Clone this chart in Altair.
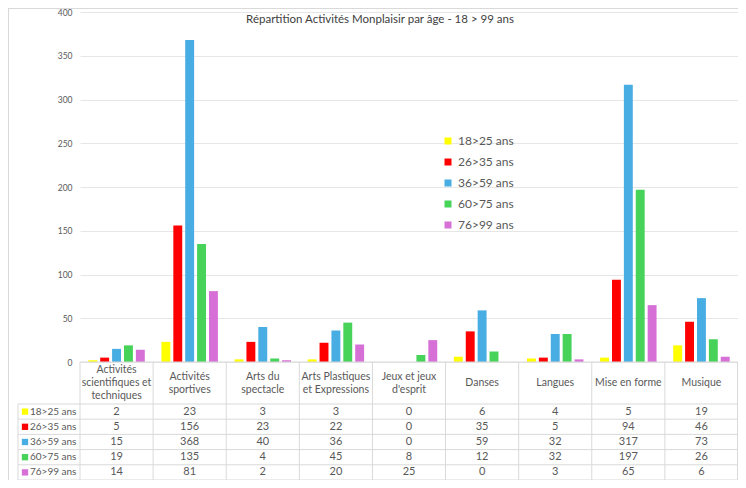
import altair as alt
import pandas as pd

title_text = "Répartition Activités Monplaisir par âge - 18 > 99 ans"
categories = ["Activités scientifiques et techniques", "Activités sportives", "Arts du spectacle",
              "Arts Plastiques et Expressions", "Jeux et jeux d'esprit", "Danses", "Langues",
              "Mise en forme", "Musique"]
headers = ["Activités\nscientifiques et\ntechniques", "Activités\nsportives", "Arts du\nspectacle",
           "Arts Plastiques\net Expressions", "Jeux et jeux\nd'esprit", "Danses", "Langues",
           "Mise en forme", "Musique"]
series = ["18>25 ans", "26>35 ans", "36>59 ans", "60>75 ans", "76>99 ans"]
colors = ["#FFFF00", "#FF0000", "#47ADE2", "#47D35A", "#D670D6"]
v_18_25 = [2, 23, 3, 3, 0, 6, 4, 5, 19]
v_26_35 = [5, 156, 23, 22, 0, 35, 5, 94, 46]
v_36_59 = [15, 368, 40, 36, 0, 59, 32, 317, 73]
v_60_75 = [19, 135, 4, 45, 8, 12, 32, 197, 26]
v_76_99 = [14, 81, 2, 20, 25, 0, 3, 65, 6]
values = [v_18_25, v_26_35, v_36_59, v_60_75, v_76_99]
y_ticks = [0, 50, 100, 150, 200, 250, 300, 350, 400]

rows = []
for s, vals in zip(series, values):
    for c, h, v in zip(categories, headers, vals):
        rows.append({"cat": c, "header": h, "nlines": h.count("\n") + 1, "series": s, "value": v})
df = pd.DataFrame(rows)

FONT = "Lato"
TXT = "#595959"
LINE = "#d9d9d9"
W, H = 658, 350
TAB_TOP, HEAD_BOT, TAB_BOT = 350, 392, 468
LH = 13
row_h = (TAB_BOT - HEAD_BOT) / 5
row_centers = [HEAD_BOT + row_h * (i + 0.5) for i in range(5)]

xs = alt.Scale(domain=categories, paddingInner=0, paddingOuter=0)
cs = alt.Scale(domain=series, range=colors)
base = alt.Chart(df)
one = pd.DataFrame({"a": [0]})

bars = base.mark_bar().encode(
    x=alt.X("cat:N", scale=xs, sort=categories, axis=None),
    xOffset=alt.XOffset("series:N", sort=series,
                        scale=alt.Scale(domain=series, paddingInner=0.25, paddingOuter=0.7)),
    y=alt.Y("value:Q", scale=alt.Scale(domain=[0, 400], nice=False), title=None,
            axis=alt.Axis(values=y_ticks, domain=False, ticks=False, labelFontSize=8.5,
                          labelColor=TXT, labelFont=FONT, gridColor="#e6e6e6", labelPadding=8)),
    color=alt.Color("series:N", scale=cs, sort=series,
                    legend=alt.Legend(title=None, orient="none", legendX=362, legendY=123,
                                      symbolType="square", symbolSize=49, symbolStrokeWidth=0,
                                      labelFontSize=12, labelColor=TXT, labelFont=FONT,
                                      rowPadding=9)),
)

layers = [bars]

# title
layers.append(alt.Chart(one).mark_text(fontSize=11.5, color="#404040", font=FONT, align="center",
                                        baseline="middle").encode(
    x=alt.value(300), y=alt.value(8), text=alt.value(title_text)))

# table column lines
first = base.transform_filter(alt.datum.series == series[0])
layers.append(first.mark_rule(color=LINE, strokeWidth=1).encode(
    x=alt.X("cat:N", scale=xs, sort=categories, bandPosition=0),
    y=alt.value(TAB_TOP), y2=alt.value(TAB_BOT)))
layers.append(alt.Chart(one).mark_rule(color=LINE).encode(
    x=alt.value(W - 0.5), y=alt.value(TAB_TOP), y2=alt.value(TAB_BOT)))
layers.append(alt.Chart(one).mark_rule(color=LINE).encode(
    x=alt.value(-62), y=alt.value(HEAD_BOT), y2=alt.value(TAB_BOT)))
# horizontal lines
layers.append(alt.Chart(one).mark_rule(color=LINE).encode(
    x=alt.value(0), x2=alt.value(W), y=alt.value(TAB_TOP)))
for k in range(6):
    yy = HEAD_BOT + row_h * k
    layers.append(alt.Chart(one).mark_rule(color=LINE).encode(
        x=alt.value(-62), x2=alt.value(W), y=alt.value(yy)))
# outer frame
layers.append(alt.Chart(one).mark_rule(color=LINE).encode(
    x=alt.value(-71.5), y=alt.value(-3.5), y2=alt.value(TAB_BOT)))
layers.append(alt.Chart(one).mark_rule(color=LINE).encode(
    x=alt.value(-72), x2=alt.value(W), y=alt.value(-3.5)))

# header (multi-line, vertically centred per line count)
head_mid = (TAB_TOP + HEAD_BOT) / 2
for n in (1, 2, 3):
    layers.append(first.transform_filter(alt.datum.nlines == n).mark_text(
        lineBreak="\n", lineHeight=LH, fontSize=10.5, color=TXT, font=FONT,
        baseline="middle", dy=-(n - 1) * LH / 2).encode(
        x=alt.X("cat:N", scale=xs, sort=categories),
        y=alt.value(head_mid), text="header:N"))

# rows
for i, s in enumerate(series):
    layers.append(base.transform_filter(alt.datum.series == s).mark_text(
        fontSize=11, color=TXT, font=FONT, baseline="middle").encode(
        x=alt.X("cat:N", scale=xs, sort=categories),
        y=alt.value(row_centers[i]), text="value:Q"))
    sdf = pd.DataFrame({"series": [s]})
    layers.append(alt.Chart(sdf).mark_square(size=40, opacity=1, strokeWidth=0).encode(
        x=alt.value(-55), y=alt.value(row_centers[i]),
        color=alt.Color("series:N", scale=cs, legend=None)))
    layers.append(alt.Chart(sdf).mark_text(fontSize=10, color=TXT, font=FONT, align="left",
                                           baseline="middle").encode(
        x=alt.value(-50), y=alt.value(row_centers[i]), text="series:N"))

chart = alt.layer(*layers).properties(
    width=W, height=H,
    autosize=alt.AutoSizeParams(type="none"),
    padding={"left": 72, "top": 4, "right": 0, "bottom": 118},
).configure_view(stroke=None)

chart.save("out.html", embed_options={"renderer": "svg", "actions": False})
